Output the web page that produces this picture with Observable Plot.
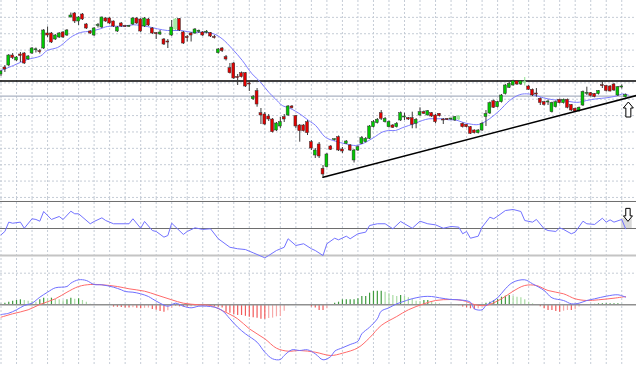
<!DOCTYPE html>
<html><head><meta charset="utf-8">
<script src="https://cdn.jsdelivr.net/npm/d3@7"></script>
<script src="https://cdn.jsdelivr.net/npm/@observablehq/plot@0.6"></script>
<style>
html,body{margin:0;padding:0;background:#fff;}
#chart svg{display:block;}
</style>
</head><body><div id="chart"></div>
<script>
// ---- price candles (bar index 0..161) ----
const open  = [126,133,135,145,140,146,147,141,147,150.2,149.3,152,167,167,161,163,168,165,183,187,179,186,176,169,165,174.5,173,182,182,179,169,177,174.5,173.7,176,182,181,174,181,172,167.3,166,161,159,165,171,181.5,168,163.3,167,167,168.7,168,167.8,167.3,163.5,147.3,152,143.3,132.3,137,123.5,127.3,127.3,117,101.3,109.3,87.3,86,84,81,70,74,83.3,85,94,84.3,75,75,78.3,58.3,45,56,31.7,33.3,54,60.3,63.3,51,56.7,55,40,50,56.7,58.3,61.7,73.3,77.3,87.3,78.3,73.3,75,73.3,80,83,82.3,82.3,76.7,85,88.3,85,87.3,85,86.7,81,81.5,81,80,81,76.7,75.7,73.3,70,67.3,70,83.5,87,99.3,93.3,98.3,106.5,112.7,115,119.3,116,117.5,114,110.7,107,101.7,98.3,98,88.3,93.3,100.7,97.3,100.7,95.5,91.7,89.3,95,106.7,107.3,106.5,106.3,115.3,114.5,114,116,105,113,103.3];
const high  = [130,135,146,147,144,148,148,145,153,152.5,151,171,173.5,168,166,168,169,171,187.5,188,184,187,177,170,173,177,183.5,183,183,179.5,174,178,175,175,183,183,182,183,182,173,168,170,162,161,180,182,182,169,165,168,172,170.5,169,170,168,165,152,153,145,137,138,126,128.5,128,120,105,112,92,88,86,82,78,83,86,95,95,85,76,76,80,60,52,58,35,47,55,61.5,64.5,53,60,56,51,54.5,64,63,75,80,82,90,83,79.5,76,78,88.5,87.3,83,88.3,82,92.7,89.5,90,88,86,87,82,82,82,84,85,77.5,76,74,70.7,71,78,90,98.5,100.5,99,106,116,118.3,120.3,120,120,123,115,111.5,112,102.5,99,100.5,98.3,99.5,101.5,101.5,101.5,96,92.5,93.5,109.5,113.3,108,107,110,119.5,115,115,117,114,115.5,106.5];
const low   = [124,128,134,141,139,138,136,140,146,147.5,146.5,151,163,157,160,162,162,164,182.5,177,175,180,171,166,164,172.5,172,178,176,173,168,173,173,173,175,176,168,173,174,166,161,165,155,152,164,170,169,156,158.5,158.5,166,167,164,166.5,163,161.5,146.5,148,139.5,126.5,121,115,122.5,113,109,100,93.3,76,75,79,67.5,69,72,78,84,91.5,72,58.3,68.5,65,50,42,42,23.3,32.5,50,59.5,49,47,56,49,37.5,49,56,57.5,61,72.5,76.5,80,77.5,72.5,72,72.5,79,80,80,71.7,71.7,84,86,84.5,83,76.7,83.5,76,80,80,79,80,72.5,72.5,66,66.5,66.5,69,74,86,92,92.5,97.5,105.5,112,114.3,115,115,114.5,110,104,103.3,95,94.5,95,87.5,92.5,96.5,96.5,91.7,89,88.3,88.3,94,105,103.5,102.7,105.5,112,108.5,108.5,109,104,111.5,102.5];
const close = [129,131,145,142.5,143,144.5,137,144,152,151,148.7,170,165,158,165,167,163,170,185,179,183,181,172,167,172,175.5,183,179,177,174,173,174,173.7,174.5,182,177,169,182,175,167,166.7,168,156,158,173,181,170,157,162.7,165,171,169.3,165,168.5,164,163,151,149.3,141,127.3,122,122.7,123.3,114,116.3,103.3,96,85,76,81,68.3,77,78.3,81,94,92.3,74,69.3,69.3,67.3,52,50,44,26,46,50.7,61,50,49,59,50,50,53.3,62.3,61.7,74,78.3,80.7,81.7,81.7,78.3,72.7,76.7,87.3,83.7,81,75.7,80.7,88.3,86.7,89.3,84,78.3,84.3,80.3,81,81.5,83.3,84,73.3,73.3,66.7,67.3,70,76.7,86.5,97.3,92.7,98.3,105,115,116.7,119.3,116,119.3,118.5,110.7,105,106.3,97.5,95.5,98.7,97.5,98.3,97.3,100.7,92.7,90,89,92.7,108.5,107.3,104.5,103.5,109.5,114.7,109.5,109,110,113.3,113.7,105.5];
const paleBars = [45, 118, 135];

// moving average (bar position, value)
const maBar = [0,3.2,6.8,10.2,11.9,14.6,16.1,17.9,20.5,23.1,25.6,27.4,31.6,34.1,37.7,40.3,42.9,46.3,49.6,51.9,54.8,57,59.6,62.2,64.7,66.9,69,70.7,72.5,74.2,75.9,77.6,79.3,81.1,83.6,86.2,88.8,91.4,93.1,94.8,96.5,98.2,99.9,101.7,103.4,105.1,106.8,108.6,110.3,112,113.7,115.4,117.1,118.9,120.6,123.1,125.9,128.5,131.1,133.6,135.4,137.2,139.8,142.4,145,147.6,149.1,150.9,153.5,156.1,158.6,160.1,161.7];
const maVal = [130,135,141,144.5,150,153,157,163,168,169.3,171.7,174,174.3,175.7,174,171.7,170,170,168,168.3,166.7,161.7,151.7,140,126.7,118.3,108.3,101.7,95,92.7,89.3,85,80,75,63.3,59.3,56.7,55,56.7,60,64,68.3,70,70,72.7,75,77.3,80,81.7,81.7,81.7,80.7,80.7,78.3,76.7,76,81.7,90,100,105.7,106.7,105.7,102.7,100.7,100,98.3,98.3,100,101.7,102.7,104.5,106.5,105.5];

// horizontal levels and trendline in main window
const resistance = [119.5];
const support = [104.3];
const trendBar = [83, 163.8];
const trendVal = [23.3, 105];

// RSI
const rsiBar = [0,1,2,3,5,6,8,9,10,11,13,15,16,18,19,20,23,24,26,27,29,32,33,34,36,37,39,40,42,43,44,47,48,50,52,54,56,59,61,63,65,68,69,71,73,74,76,78,80,81,83,84,86,87,89,90,92,94,95,97,99,101,103,104,106,108,110,112,114,116,118,119,120,121,123,124,126,127,128,130,132,134,135,137,138,140,141,143,144,145,147,148,150,151,153,155,156,157,158,160,161];
const rsiVal = [45.3,47.8,54.7,53.9,54.7,50.2,57.2,56.7,55.4,62.6,56.7,58.9,56.7,62.8,60.9,60.9,53.5,55.2,57.9,55.9,53.5,53.5,53.5,57.2,50.2,55.2,48.5,47.8,43.6,44.8,53.9,45.6,47.8,50.5,49.3,49.8,42.4,36.1,35,34.4,32,28.3,30,33.7,36.1,42.4,37.4,38.7,35,33.7,30,38.7,42.8,41.6,44.3,42.4,46.1,47.3,52.2,53.5,53.5,49.8,55.2,53.5,50.2,55.4,53.5,52.7,50.2,51.5,51,46.1,47.8,42.8,44.3,51,58.4,57.2,59.1,63.3,64.1,62.6,55.9,54.7,56.7,49.8,48.5,47.8,50.5,49.3,46.1,47.3,55.4,53.5,53,57.6,54.7,56.4,54.7,56.7,49.8];
const rsiLevels = [70, 50];
const rsiLow = [30];

// MACD
const macdBar = [0,2,4,6,8,10,12,14,17,18,20,22,24,26,29,31,32,34,36,38,39,41,43,45,47,49,51,53,55,57,59,61,63,66,68,70,72,73,75,77,79,81,83,85,86,88,90,92,93,95,97,98,100,102,104,105,107,109,111,113,116,118,121,122,124,125,128,130,132,135,137,140,142,145,147,149,151,153,156,159,161];
const macdVal = [-9.7,-8.4,-5,-0.7,1.6,7.6,12.6,17,18.3,21.6,25,24.3,20.3,20,17.6,15,13.3,12.6,11,8.3,6,1.6,-1.4,1.6,-1.4,-3,-1.4,-1.4,-2.4,-5.7,-14,-22.4,-29,-37.4,-47.4,-54,-54.7,-50.7,-45,-45.7,-45,-49,-55,-51.7,-46.4,-43,-39.7,-36.4,-29,-22.4,-14,-6.4,-3,1,3.6,5,7,8.3,8.3,7,5.3,5,2.6,-4,-5,-0.7,7,16,22.6,25,21,14.3,7,4.3,1,1.6,4.3,6,8.6,10,7.6];
const signalBar = [0,3,7,10,14,17,20,23,26,30,33,37,40,44,47,51,54,57,61,64,68,71,74,77,81,85,88,92,95,98,102,105,109,112,116,119,122,125,129,132,135,138,141,145,148,151,154,158,161];
const signalVal = [-12.4,-9,-5,0.3,6,12.6,18.3,20.3,20,18.3,16,13.6,10,5,1.6,0,-0.7,-5.7,-14,-24,-34,-43.4,-46.4,-45.7,-47.4,-50.7,-48.4,-43,-33,-20.7,-11.7,-5,1,4.3,5.3,4.3,0.3,-0.7,6,13.6,19.3,19.3,14.3,11,6,4.3,5,6.6,8.3];
const histVal = [0.5,1.6,2.6,3.5,4.3,5,4.3,3.6,3.3,2.6,5,6.6,6,6.6,5.3,5,4,5,6.6,5.6,6,4.3,2.6,0.5,0.3,0,0,-0.3,-0.5,-2.3,-2.5,-2.6,-3.3,-3.3,-3,-3.5,-4,-3.5,-3.3,-4.6,-5.5,-6.7,-7.4,-6,-3.5,-1.7,-2,-2.3,-2.3,-2,-1.5,-1.3,-1.3,-1.3,-1.5,-1.7,-2.5,-3.3,-7.4,-8.5,-9.7,-10.7,-10.7,-11.5,-12.4,-13,-13.5,-14.4,-14.4,-13.7,-13.3,-12,-11.7,-6.4,-1,0,0,0,0,0,-2.3,-3.3,-5.7,-5.7,-4,-0.5,1.6,2.6,5,5,5,5,6,8.3,8.3,11.6,13.3,13.6,13.6,12.6,11,9.3,8.3,9.3,8.3,7,5.3,3.6,3.3,4.3,4.3,2.6,1.6,1,0.3,0,-0.3,-0.5,-1,-2.3,-3,-4,-5,-4,-1,1.6,2.6,4.3,5.3,7.6,8.6,9.3,8.3,7.6,7,5,2.6,1,0,-2,-4,-5.7,-5.7,-6.7,-7.4,-6.4,-5.7,-5.7,-5,-2.3,-0.7,0,0.3,0.5,1,1,1,1,1,1,0.5,0.3];
const macdDotted = [31.6];

// markers
const upArrow = [{bar: 161.7, value: 91}];
const downArrow = [{bar: 161.6, value: 60.1}];
const rsiShade = [{b1: 159.9, b2: 162.7, v1: 49.8, v2: 57.3}];

// ---- build ----
const W = 636;
const xDomain = [-0.13, 163.8];
const gridColor = "#c5ccd6";
const vGrid = d3.range(0, 164, 4);
const hGrid = d3.range(1, 13).map(k => 199.5 - 16.37 * k);

const candles = open.map((o, i) => ({i, o, h: high[i], l: low[i], c: close[i], pale: paleBars.includes(i)}));
const ma = maBar.map((b, k) => ({b, v: maVal[k]}));
const trend = trendBar.map((b, k) => ({b, v: trendVal[k]}));
const rsi = rsiBar.map((b, k) => ({b, v: rsiVal[k]}));
const macd = macdBar.map((b, k) => ({b, v: macdVal[k]}));
const signal = signalBar.map((b, k) => ({b, v: signalVal[k]}));
const hist = histVal.map((v, i) => ({i, v, prev: i ? histVal[i - 1] : 0}));

// hollow arrow symbols (drawn around the dot centre)
const arrowUpSymbol = {draw(ctx) {
  ctx.moveTo(0, -7.5); ctx.lineTo(5, -1.5); ctx.lineTo(2.5, -1.5); ctx.lineTo(2.5, 7.5);
  ctx.lineTo(-2.5, 7.5); ctx.lineTo(-2.5, -1.5); ctx.lineTo(-5, -1.5); ctx.closePath();
}};
const arrowDownSymbol = {draw(ctx) {
  ctx.moveTo(0, 6.5); ctx.lineTo(4.5, 1); ctx.lineTo(2.2, 1); ctx.lineTo(2.2, -6.5);
  ctx.lineTo(-2.2, -6.5); ctx.lineTo(-2.2, 1); ctx.lineTo(-4.5, 1); ctx.closePath();
}};

function bodyColor(d) {
  if (d.pale) return "#a6eca6";
  return d.c >= d.o ? "#00c800" : "#e00000";
}
function histColor(d) {
  if (d.v >= 0) return d.v >= d.prev ? "#3f9b3f" : "#a9dca4";
  return d.v <= d.prev ? "#f25a5a" : "#f7a9a9";
}

const main = Plot.plot({
  width: W, height: 198, margin: 0,
  x: {domain: xDomain, axis: null},
  y: {domain: [2, 200], axis: null},
  style: {background: "#fff", overflow: "visible"},
  marks: [
    Plot.ruleX(vGrid, {stroke: gridColor, strokeDasharray: "2,2"}),
    Plot.ruleY(hGrid, {stroke: gridColor, strokeDasharray: "2,2"}),
    Plot.ruleY(support, {stroke: "#aab2c2", strokeWidth: 1.2}),
    Plot.ruleY(resistance, {stroke: "#000", strokeWidth: 1.5}),
    Plot.line(ma, {x: "b", y: "v", stroke: "#7d7dff", strokeWidth: 1, curve: "catmull-rom"}),
    Plot.ruleX(candles, {x: "i", y1: "l", y2: "h", stroke: d => d.pale ? "#8fe08f" : "#3a3a3a", strokeWidth: 1}),
    Plot.rect(candles, {
      x1: d => d.i - 0.37, x2: d => d.i + 0.37,
      y1: "o",
      y2: d => Math.abs(d.c - d.o) < 1 ? d.o + (d.c >= d.o ? 1 : -1) : d.c,
      fill: bodyColor,
      stroke: d => d.pale ? "#8fe08f" : "#333", strokeWidth: 0.5
    }),
    Plot.line(trend, {x: "b", y: "v", stroke: "#000", strokeWidth: 1.6}),
    Plot.dot(upArrow, {x: "bar", y: "value", symbol: arrowUpSymbol, r: 5, fill: "#fff", stroke: "#000", strokeWidth: 1})
  ]
});

const rsiPlot = Plot.plot({
  width: W, height: 60, margin: 0,
  x: {domain: xDomain, axis: null},
  y: {domain: [27.78, 72.22], axis: null},
  style: {background: "#fff", overflow: "visible"},
  marks: [
    Plot.ruleX(vGrid, {stroke: gridColor, strokeDasharray: "2,2"}),
    Plot.rect(rsiShade, {x1: "b1", x2: "b2", y1: "v1", y2: "v2", fill: "#d9d9d9"}),
    Plot.ruleY(rsiLevels, {stroke: "#6e6e6e", strokeWidth: 1}),
    Plot.ruleY(rsiLow, {stroke: "#c4c4c4", strokeWidth: 2}),
    Plot.line(rsi, {x: "b", y: "v", stroke: "#7272ff", strokeWidth: 1}),
    Plot.dot(downArrow, {x: "bar", y: "value", symbol: arrowDownSymbol, r: 5, fill: "#fff", stroke: "#000", strokeWidth: 1})
  ]
});

const macdPlot = Plot.plot({
  width: W, height: 107, margin: 0,
  x: {domain: xDomain, axis: null},
  y: {domain: [-60.7, 46.3], axis: null},
  style: {background: "#fff", overflow: "visible"},
  marks: [
    Plot.ruleX(vGrid, {stroke: gridColor, strokeDasharray: "2,2"}),
    Plot.ruleY(macdDotted, {stroke: gridColor, strokeDasharray: "2,2"}),
    Plot.ruleX(hist, {x: "i", y1: 0, y2: "v", stroke: histColor, strokeWidth: 1.2}),
    Plot.ruleY([0], {stroke: "#909090", strokeWidth: 1.5}),
    Plot.line(signal, {x: "b", y: "v", stroke: "#ff6a6a", strokeWidth: 1, curve: "catmull-rom"}),
    Plot.line(macd, {x: "b", y: "v", stroke: "#6f6fff", strokeWidth: 1, curve: "catmull-rom"})
  ]
});

const root = document.getElementById("chart");
root.append(main, rsiPlot, macdPlot);
</script>
</body></html>
